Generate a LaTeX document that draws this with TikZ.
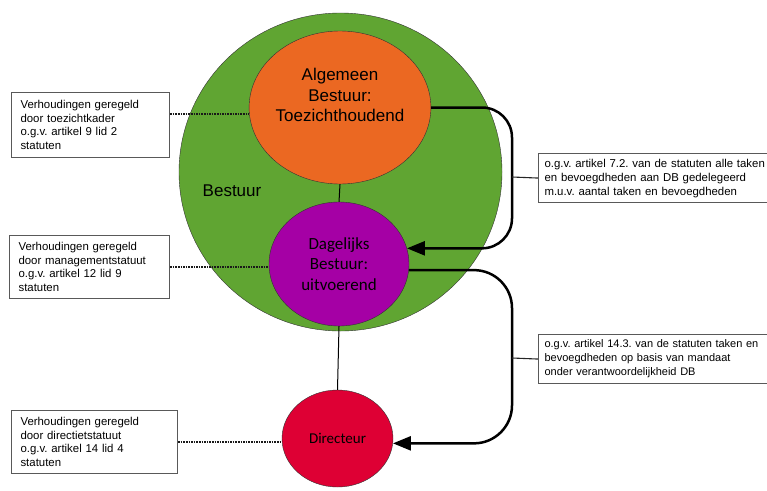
\documentclass[tikz,border=0pt]{standalone}
\usepackage[dvipsnames]{xcolor}
\usepackage{fontspec}
\setmainfont{Liberation Sans}
\newfontfamily\calibri{Carlito}
\usepackage{tikz}
\usetikzlibrary{shapes.geometric,arrows.meta}
\frenchspacing

\definecolor{bgroen}{RGB}{96,165,50}
\definecolor{oranje}{RGB}{235,104,34}
\definecolor{paars}{RGB}{165,0,165}
\definecolor{rood}{RGB}{222,0,52}

\begin{document}
\begin{tikzpicture} [x=1pt, y=-1pt,
    kring/.style = {draw=black!80,
    ellipse,
    inner sep=0pt,
    align=center,
    font=\fontsize{17}{20.5}\selectfont},
    kader/.style = {draw=black!65,
    line width=1.1pt,
    fill=white,
    anchor=north west,
    align=left,
    inner xsep=9pt,
    inner ysep=0pt,
    font=\fontsize{11.4}{13.6}\selectfont},
    stip/.style = {black!90, line width=2pt, dash pattern=on 1.6pt off 1pt},
    pijl/.style = {line width=2.5pt, -{Triangle[length=18pt,width=14pt]}}]

\useasboundingbox (0,0) rectangle (767,490);

\node (bestuur) at (340.5,172) [kring, fill=bgroen, minimum width=323pt, minimum height=318pt] {};
\node (bestuurtekst) at (232,191) [font=\fontsize{17}{20}\selectfont] {Bestuur};

\node (ab) at (340,107.5) [kring, fill=oranje, minimum width=172pt, minimum height=153pt] {Algemeen\\Bestuur:\\Toezichthoudend\\[4pt]\mbox{}};
\node (db) at (339,264) [kring, fill=paars, minimum width=140pt, minimum height=124pt, font=\calibri\fontsize{17}{20.5}\selectfont] {Dagelijks\\Bestuur:\\uitvoerend};
\node (dir) at (337.5,438.5) [kring, fill=rood, minimum width=111pt, minimum height=97pt, font=\calibri\fontsize{15}{18}\selectfont] {Directeur};

\draw [black, line width=1pt] (ab.south) -- (db.north);
\draw [black, line width=1pt] (db.south) -- (dir.north);

\node (k1) at (11,92) [kader, text width=140pt, minimum height=65pt] {Verhoudingen geregeld\\door toezichtkader\\o.g.v. artikel 9 lid 2\\statuten};
\node (k2) at (9,235) [kader, text width=142pt, minimum height=63pt] {Verhoudingen geregeld\\door managementstatuut\\o.g.v. artikel 12 lid 9\\statuten};
\node (k3) at (11,410) [kader, text width=148pt, minimum height=63pt] {Verhoudingen geregeld\\door directietstatuut\\o.g.v. artikel 14 lid 4\\statuten};
\node (k4) at (538,153) [kader, inner xsep=6pt, text width=226pt, minimum height=49pt, font=\fontsize{11.4}{14}\selectfont] {o.g.v. artikel 7.2. van de statuten alle taken\\en bevoegdheden aan DB gedelegeerd\\m.u.v. aantal taken en bevoegdheden};
\node (k5) at (538,334) [kader, inner xsep=6pt, text width=226pt, minimum height=49pt, font=\fontsize{11}{14}\selectfont] {o.g.v. artikel 14.3. van de statuten taken en\\bevoegdheden op basis van mandaat\\onder verantwoordelijkheid DB};

\draw [stip] ([yshift=11.5pt]k1.east) -- ([yshift=11.5pt]k1.east -| ab.west);
\draw [stip] (k2.east) -- (k2.east -| db.west);
\draw [stip] (k3.east) -- (k3.east -| dir.west);

\coordinate (r1) at (512,177);
\coordinate (r2) at (512,358);
\draw [pijl, rounded corners=30pt] (ab.east) -| (r1) |- (db.13);
\draw [pijl, rounded corners=38pt] (db.-5) -| (r2) |- (dir.-5);
\draw [black!85, line width=1.1pt] (r1) -- (k4.west);
\draw [black!85, line width=1.1pt] (r2) -- (k5.west);

\end{tikzpicture}
\end{document}
